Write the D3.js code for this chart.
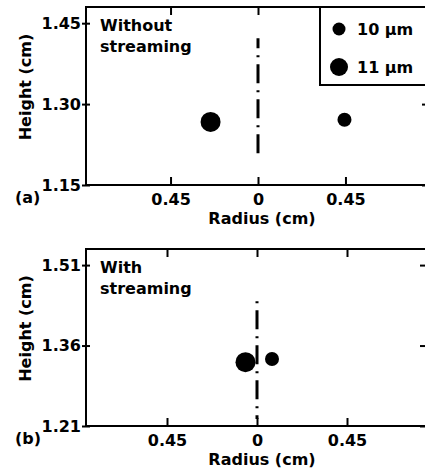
<!DOCTYPE html>
<html>
<head>
<meta charset="utf-8">
<script src="https://cdn.jsdelivr.net/npm/d3@7"></script>
<style>
  body { margin: 0; background: #fff; }
  svg text { font-family: "DejaVu Sans", sans-serif; font-weight: bold; font-size: 16px; fill: #000; }
</style>
</head>
<body>
<div id="chart"></div>
<script>
// droplet sizes (legend order)
var sizes = ["10 µm", "11 µm"];
var dotRadius = [7, 10];

// (a) without streaming
var radiusNoStream = [0.445, -0.244];
var heightNoStream = [1.271, 1.267];
// (b) with streaming
var radiusStream = [0.075, -0.0575];
var heightStream = [1.335, 1.329];

var xTicks = [-0.45, 0, 0.45];
var yTicksA = [1.15, 1.30, 1.45];
var yTicksB = [1.21, 1.36, 1.51];

// extent of the dash-dot centre line (height, cm)
var centreA = [1.422, 1.196];
var centreB = [1.454, 1.223];

var svg = d3.select("#chart").append("svg")
  .attr("width", 425)
  .attr("height", 476);

function drawPanel(cfg) {
  var x = d3.scaleLinear().domain(cfg.xDomain).range([cfg.left, cfg.right]);
  var y = d3.scaleLinear().domain(cfg.yDomain).range([cfg.bottom, cfg.top]);
  var g = svg.append("g");

  // bottom axis with labels
  var bx = g.append("g")
    .attr("transform", "translate(0," + cfg.bottom + ")")
    .call(d3.axisBottom(x).tickValues(xTicks).tickSize(-8).tickPadding(9)
      .tickFormat(function (d) { return d === 0 ? "0" : Math.abs(d).toFixed(2); }));
  // top axis, ticks only
  var tx = g.append("g")
    .attr("transform", "translate(0," + cfg.top + ")")
    .call(d3.axisTop(x).tickValues(xTicks).tickSize(-8).tickFormat(""));
  // left axis
  var ly = g.append("g")
    .attr("transform", "translate(" + cfg.left + ",0)")
    .call(d3.axisLeft(y).tickValues(cfg.yTicks).tickSize(4).tickPadding(1)
      .tickFormat(d3.format(".2f")));
  ly.selectAll(".tick line").attr("x1", 4);
  // right axis, ticks only
  var ry = g.append("g")
    .attr("transform", "translate(" + cfg.right + ",0)")
    .call(d3.axisRight(y).tickValues(cfg.yTicks).tickSize(-8).tickFormat(""));

  [bx, tx, ly, ry].forEach(function (a) {
    a.select(".domain").remove();
    a.selectAll(".tick line").attr("stroke", "#000").attr("stroke-width", 2);
    a.selectAll("text").attr("font-size", null).attr("font-family", null);
  });

  // frame
  g.append("rect")
    .attr("x", cfg.left).attr("y", cfg.top)
    .attr("width", cfg.right - cfg.left).attr("height", cfg.bottom - cfg.top)
    .attr("fill", "none").attr("stroke", "#000").attr("stroke-width", 2);

  // dash-dot centre line
  g.append("line")
    .attr("x1", x(0)).attr("x2", x(0))
    .attr("y1", y(cfg.centre[0])).attr("y2", y(cfg.centre[1]))
    .attr("stroke", "#000").attr("stroke-width", 3)
    .attr("stroke-dasharray", "19,7,2,7")
    .attr("stroke-dashoffset", cfg.dashOffset);

  // droplets
  g.selectAll("circle.drop")
    .data(cfg.radius)
    .enter().append("circle")
    .attr("class", "drop")
    .attr("cx", function (d) { return x(d); })
    .attr("cy", function (d, i) { return y(cfg.height[i]); })
    .attr("r", function (d, i) { return dotRadius[i]; })
    .attr("fill", "#000");

  // labels
  g.append("text").attr("x", cfg.left + 14).attr("y", cfg.top + 24).text(cfg.title[0]);
  g.append("text").attr("x", cfg.left + 14).attr("y", cfg.top + 45).text(cfg.title[1]);
  g.append("text").attr("x", 15).attr("y", cfg.bottom + 18).text(cfg.tag);
  g.append("text").attr("x", 262).attr("y", cfg.bottom + 39)
    .attr("text-anchor", "middle").text("Radius (cm)");
  g.append("text")
    .attr("transform", "translate(31," + ((cfg.top + cfg.bottom) / 2 - 9) + ") rotate(-90)")
    .attr("text-anchor", "middle").text("Height (cm)");
  return g;
}

var ga = drawPanel({
  left: 86, right: 430, top: 7, bottom: 185,
  xDomain: [-0.885, 0.885], yDomain: [1.15, 1.48],
  yTicks: yTicksA, radius: radiusNoStream, height: heightNoStream,
  centre: centreA, dashOffset: 9,
  title: ["Without", "streaming"], tag: "(a)"
});

drawPanel({
  left: 86, right: 428, top: 249, bottom: 426,
  xDomain: [-0.855, 0.855], yDomain: [1.21, 1.54],
  yTicks: yTicksB, radius: radiusStream, height: heightStream,
  centre: centreB, dashOffset: 20,
  title: ["With", "streaming"], tag: "(b)"
});

// legend in panel (a)
var legend = ga.append("g");
legend.append("rect")
  .attr("x", 320).attr("y", 7).attr("width", 130).attr("height", 78)
  .attr("fill", "#fff").attr("stroke", "#000").attr("stroke-width", 2);
legend.selectAll("circle")
  .data(sizes)
  .enter().append("circle")
  .attr("cx", 339)
  .attr("cy", function (d, i) { return 29 + i * 38; })
  .attr("r", function (d, i) { return i === 0 ? 6.5 : 9; })
  .attr("fill", "#000");
legend.selectAll("text")
  .data(sizes)
  .enter().append("text")
  .attr("x", 357)
  .attr("y", function (d, i) { return 35 + i * 38; })
  .text(function (d) { return d; });
</script>
</body>
</html>
